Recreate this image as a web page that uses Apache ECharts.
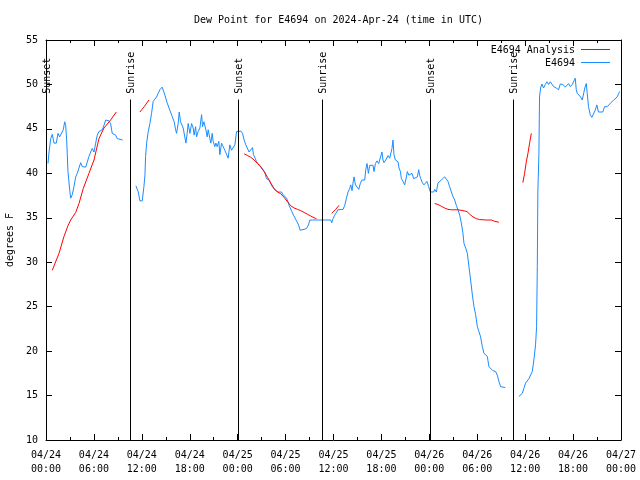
<!DOCTYPE html>
<html><head><meta charset="utf-8">
<script src="https://cdn.jsdelivr.net/npm/echarts@6/dist/echarts.min.js"></script>
<style>html,body{margin:0;padding:0;background:#fff}#c{width:640px;height:480px}</style>
</head><body><div id="c"></div>
<script>
// Hours since 2024-04-24 00:00 UTC
const tickLabels = ['04/24\n00:00','04/24\n06:00','04/24\n12:00','04/24\n18:00','04/25\n00:00','04/25\n06:00','04/25\n12:00','04/25\n18:00','04/26\n00:00','04/26\n06:00','04/26\n12:00','04/26\n18:00','04/27\n00:00'];

// E4694 observations (null = gap)
const obsHours = [
0.25,0.38,0.59,0.79,1.00,1.29,1.50,1.71,1.96,2.16,2.34,2.46,2.59,2.75,2.97,3.09,3.29,3.50,3.72,3.92,4.13,4.34,4.54,4.97,5.17,5.38,5.59,5.79,6.01,6.22,6.42,6.63,6.84,7.04,7.26,7.47,7.67,7.88,8.09,8.29,8.51,8.72,8.92,9.13,9.60,
10.4,
11.26,11.55,11.76,12.05,12.26,12.39,12.47,12.60,12.80,13.01,13.22,13.42,13.64,13.85,14.05,14.26,14.55,14.89,15.18,15.51,15.80,16.05,16.23,16.35,16.55,16.68,16.85,17.05,17.18,17.39,17.52,17.68,17.80,18.02,18.23,18.43,18.55,18.73,18.85,19.05,19.27,19.48,19.60,19.77,20.02,20.18,20.31,20.52,20.64,20.81,20.93,21.14,21.27,21.43,21.64,21.77,21.98,22.18,22.39,22.61,22.81,23.02,23.23,23.43,23.65,23.86,24.06,24.40,24.61,24.81,25.02,25.24,25.43,25.65,25.86,25.98,26.19,26.36,26.56,26.77,26.99,27.19,27.40,27.61,27.81,27.94,28.15,28.27,28.49,28.69,28.86,29.06,29.28,29.49,29.69,29.90,30.11,30.31,30.44,30.65,30.78,30.99,31.19,31.40,31.62,31.82,32.03,32.32,32.62,32.87,33.03,33.37,35.66,35.78,35.94,36.16,36.37,36.57,37.20,37.41,37.62,37.82,38.03,38.16,38.32,38.44,38.57,38.75,38.95,39.16,39.37,39.57,39.79,39.91,40.04,40.20,40.37,40.54,40.75,40.95,41.07,41.25,41.45,41.66,41.88,42.07,42.20,42.32,42.54,42.70,42.83,43.04,43.16,43.32,43.45,43.57,43.75,43.88,44.08,44.20,44.38,44.50,44.70,44.91,45.13,45.25,45.42,45.63,45.83,46.04,46.29,46.50,46.67,46.79,46.92,47.13,47.33,47.54,47.70,47.92,48.13,48.33,48.54,48.67,48.88,49.08,49.29,49.50,49.71,49.92,50.13,50.33,50.54,50.76,50.96,51.17,51.38,51.58,51.80,52.01,52.21,52.34,52.55,52.76,52.96,53.17,53.39,53.59,53.80,54.01,54.21,54.42,54.64,54.84,55.05,55.26,55.46,55.67,55.96,56.30,56.51,56.71,56.92,57.51,
58.3,
59.21,59.43,59.64,59.84,60.05,60.27,60.47,60.68,60.89,61.09,61.30,61.43,61.52,61.59,61.72,61.80,61.93,62.09,62.30,62.52,62.72,62.93,63.14,63.34,63.56,63.89,64.18,64.40,64.72,65.02,65.22,65.43,65.65,65.90,66.10,66.27,66.40,66.52,66.72,66.93,67.15,67.31,67.47,67.65,67.77,67.93,68.15,68.35,68.56,68.77,68.97,69.18,69.72,69.94,70.27,70.48,70.69,70.90,71.10,71.31,71.52,71.73,71.81];
const obsValues = [
41.1,42.4,43.9,44.4,43.4,43.4,44.5,44.1,44.2,44.9,45.8,45.4,43.75,40.2,38.1,37.2,37.6,38.5,39.6,40.0,40.6,41.2,40.75,40.7,40.9,41.9,42.4,42.8,42.4,43.4,44.3,44.7,44.7,44.9,45.4,46.0,45.9,45.9,45.6,44.5,44.3,44.3,43.9,43.75,43.75,
null,
38.6,37.9,36.9,36.9,38.5,39.8,41.9,43.4,44.7,45.6,46.75,48.1,48.25,48.6,49.0,49.4,49.7,48.8,47.9,47.1,46.4,45.8,44.9,44.5,45.6,46.9,45.8,45.6,45.1,44.9,43.4,44.5,45.6,44.5,45.6,45.1,44.3,45.25,44.1,44.7,45.1,46.6,45.25,45.8,44.9,44.1,44.9,43.9,43.4,44.5,43.6,43.0,43.4,43.0,43.6,42.1,43.4,43.0,42.6,42.4,41.7,43.2,42.6,42.8,43.2,44.7,44.9,44.75,44.5,43.75,43.2,43.0,42.4,42.6,42.9,42.1,41.7,41.3,41.1,40.9,40.75,40.4,40.1,39.4,39.55,39.25,39.1,38.6,38.6,38.1,37.9,37.9,37.8,37.9,37.6,37.4,37.2,36.8,36.4,36.25,35.7,35.3,35.1,34.6,34.2,33.6,33.7,33.7,33.8,34.2,34.75,34.75,34.75,34.45,34.9,35.3,35.5,35.9,35.95,36.4,37.2,37.9,38.3,38.7,38.05,38.9,39.6,38.7,38.5,38.2,38.9,39.25,39.4,39.25,40.4,41.1,40.0,40.9,41.05,40.9,40.2,41.1,41.4,41.1,41.1,42.4,41.5,41.2,41.5,41.7,42.0,41.7,41.9,42.8,43.75,42.1,41.5,41.7,41.3,40.6,40.2,39.4,39.1,38.7,39.6,40.2,39.8,39.6,40.0,39.4,39.25,39.6,40.4,39.8,39.4,38.95,38.7,38.9,39.1,38.5,37.9,37.75,37.9,38.2,37.9,38.9,39.1,39.25,39.4,39.6,39.4,39.1,38.5,37.9,37.4,37.0,36.4,35.9,35.3,34.4,33.25,32.1,31.6,31.0,29.5,28.0,26.3,25.0,24.1,22.75,22.2,21.6,20.5,19.75,19.6,19.4,18.25,18.2,17.8,17.7,17.3,16.6,16.0,15.9,
null,
14.9,14.8,15.25,15.8,16.4,16.6,16.9,17.1,17.7,19.0,20.7,22.75,29.5,38.0,42.1,48.6,49.6,50.05,49.6,50.0,50.3,50.0,50.3,50.05,49.75,49.6,49.4,50.05,50.0,49.7,49.75,50.1,49.75,50.0,50.2,50.7,49.4,49.0,48.8,48.6,48.25,48.1,49.6,50.1,49.0,47.5,46.6,46.3,46.3,47.1,47.7,46.9,46.9,47.5,47.5,47.6,47.9,47.7,48.25,48.4,48.6,49.0,49.2];

// E4694 Analysis (null = gap)
const anaHours = [
0.79,1.63,2.25,2.75,3.09,3.72,4.13,4.67,5.38,6.01,6.63,7.26,8.09,8.80,
10.0,
11.76,12.30,12.89,
18.0,
24.81,25.24,25.65,26.06,26.49,26.90,27.31,27.74,28.15,28.56,28.99,29.40,29.81,30.24,30.65,31.06,31.49,31.90,32.32,32.74,33.15,33.57,33.87,
34.8,
35.78,36.28,36.69,
42.0,
48.67,49.08,49.50,49.92,50.33,50.76,51.58,52.21,52.71,53.05,53.46,53.88,54.30,55.13,55.76,56.17,56.71,
58.0,
59.71,59.93,60.14,60.35,60.56,60.77];
const anaValues = [
29.1,31.0,32.9,34.1,34.75,35.6,36.6,38.3,40.0,41.5,43.9,45.1,46.0,46.9,
null,
46.9,47.5,48.25,
null,
42.2,42.0,41.8,41.5,41.1,40.7,40.2,39.55,38.9,38.3,37.9,37.7,37.3,36.8,36.35,36.1,35.95,35.8,35.6,35.4,35.2,35.0,34.9,
null,
35.5,35.95,36.4,
null,
36.6,36.5,36.3,36.1,35.95,35.9,35.9,35.8,35.7,35.4,35.1,34.9,34.8,34.75,34.75,34.6,34.5,
null,
38.95,40.0,41.3,42.25,43.4,44.5];

// Sun events (hours since 04/24 00:00 UTC)
const sunHours = [0.05, 10.55, 24.07, 34.6, 48.07, 58.45];
const sunLabels = ['Sunset','Sunrise','Sunset','Sunrise','Sunset','Sunrise'];

const seriesNames = ['E4694 Analysis', 'E4694'];
const seriesColors = ['#ff0000', '#1a8cff'];

const FONT = 'DejaVu Sans Mono';
const zip = (a, b) => a.map((h, i) => [h, b[i]]);

const chart = echarts.init(document.getElementById('c'), null, {renderer: 'canvas'});
const axisCommon = {
  axisLine: {show: true, onZero: false, lineStyle: {color: '#000', width: 1}},
  splitLine: {show: false},
  axisTick: {show: true, inside: true, length: 6, lineStyle: {color: '#000'}},
  minorTick: {show: true, splitNumber: 2, length: 3, lineStyle: {color: '#000'}}
};
const legendGraphics = [];
seriesNames.forEach((n, i) => {
  const y = 50 + i * 13;
  legendGraphics.push({type: 'text', x: 575, y: y, style: {text: n, fontFamily: FONT, fontSize: 10, fill: '#000', align: 'right', verticalAlign: 'middle'}});
  legendGraphics.push({type: 'line', shape: {x1: 581, y1: y - 0.5, x2: 610, y2: y - 0.5}, style: {stroke: seriesColors[i], lineWidth: 1}});
});

chart.setOption({
  animation: false,
  backgroundColor: '#fff',
  title: {text: 'Dew Point for E4694 on 2024-Apr-24 (time in UTC)', left: 189, top: 10,
    textStyle: {fontFamily: FONT, fontSize: 10, fontWeight: 'normal', color: '#000'}},
  graphic: legendGraphics,
  grid: {left: 46, right: 19, top: 40, bottom: 40, containLabel: false, outerBoundsMode: 'none'},
  xAxis: [
    Object.assign({type: 'value', min: 0, max: 72, interval: 6, position: 'bottom',
      axisLabel: {fontFamily: FONT, fontSize: 10, color: '#000', lineHeight: 14, margin: 8,
        formatter: v => tickLabels[Math.round(v / 6)]}}, axisCommon),
    Object.assign({type: 'value', min: 0, max: 72, interval: 6, position: 'top',
      axisLabel: {show: false}}, axisCommon)
  ],
  yAxis: [
    Object.assign({type: 'value', min: 10, max: 55, interval: 5, position: 'left',
      name: 'degrees F', nameLocation: 'middle', nameGap: 31, nameRotate: 90,
      nameTextStyle: {fontFamily: FONT, fontSize: 10, color: '#000'},
      axisLabel: {fontFamily: FONT, fontSize: 10, color: '#000', margin: 8}}, axisCommon, {minorTick: {show: false}}),
    Object.assign({type: 'value', min: 10, max: 55, interval: 5, position: 'right',
      axisLabel: {show: false}}, axisCommon, {minorTick: {show: false}})
  ],
  series: [
    {name: seriesNames[0], type: 'line', data: zip(anaHours, anaValues), showSymbol: false, symbol: 'none',
      connectNulls: false, lineStyle: {color: seriesColors[0], width: 1}, itemStyle: {color: seriesColors[0]}, z: 3},
    {name: seriesNames[1], type: 'line', data: zip(obsHours, obsValues), showSymbol: false, symbol: 'none',
      connectNulls: false, lineStyle: {color: seriesColors[1], width: 1}, itemStyle: {color: seriesColors[1]}, z: 2},
    {name: 'sun', type: 'custom', data: zip(sunHours, sunLabels.map((_, i) => i)), z: 4, silent: true,
      renderItem: (params, api) => {
        const h = api.value(0);
        const top = api.coord([h, 48.3]);
        const bot = api.coord([h, 10]);
        const txt = api.coord([h, 48.95]);
        const x = Math.round(top[0]) + 0.5;
        return {type: 'group', children: [
          {type: 'line', shape: {x1: x, y1: top[1], x2: x, y2: bot[1]}, style: {stroke: '#000', lineWidth: 1}},
          {type: 'text', x: x + 1, y: txt[1], rotation: Math.PI / 2,
            style: {text: sunLabels[api.value(1)], fontFamily: FONT, fontSize: 10, fill: '#000',
              align: 'left', verticalAlign: 'middle'}}
        ]};
      }}
  ]
});
</script></body></html>
